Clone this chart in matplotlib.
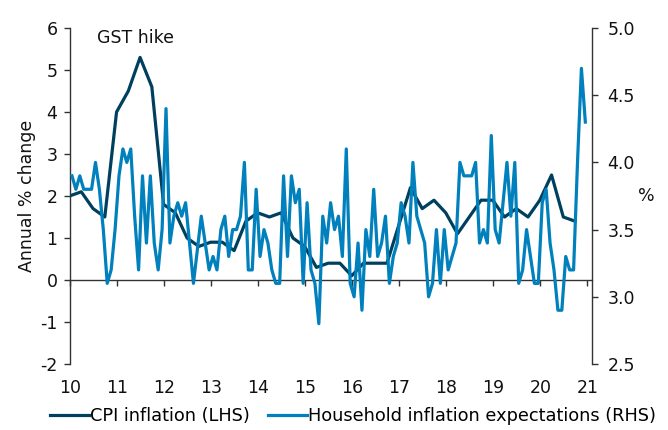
import matplotlib
matplotlib.use("Agg")
import matplotlib.pyplot as plt
import numpy as np
from matplotlib.ticker import FuncFormatter, FixedLocator

# ---- data ----
cpi = [2.0, 2.1, 1.7, 1.5, 4.0, 4.5, 5.3, 4.6, 1.8, 1.6, 1.0, 0.8, 0.9, 0.9, 0.7, 1.4,
       1.6, 1.5, 1.6, 1.0, 0.8, 0.3, 0.4, 0.4, 0.1, 0.4, 0.4, 0.4, 1.3, 2.2, 1.7, 1.9,
       1.6, 1.1, 1.5, 1.9, 1.9, 1.5, 1.7, 1.5, 1.9, 2.5, 1.5, 1.4]
cpi_start = 9.99          # Q4 2009, quarterly steps
hh_exp = [3.9, 3.8, 3.9, 3.8, 3.8, 3.8, 4.0, 3.8, 3.5, 3.1, 3.2, 3.5,
          3.9, 4.1, 4.0, 4.1, 3.6, 3.2, 3.9, 3.4, 3.9, 3.4, 3.2, 3.5,
          4.4, 3.4, 3.6, 3.7, 3.6, 3.7, 3.4, 3.1, 3.35, 3.6, 3.4, 3.2,
          3.3, 3.2, 3.5, 3.6, 3.3, 3.5, 3.5, 3.6, 4.0, 3.2, 3.2, 3.8,
          3.3, 3.5, 3.4, 3.2, 3.1, 3.1, 3.9, 3.3, 3.9, 3.7, 3.8, 3.1,
          3.7, 3.2, 3.1, 2.8, 3.6, 3.4, 3.7, 3.5, 3.6, 3.3, 4.1, 3.1,
          3.0, 3.4, 2.9, 3.5, 3.3, 3.8, 3.3, 3.4, 3.6, 3.1, 3.3, 3.4,
          3.7, 3.6, 3.4, 4.0, 3.6, 3.5, 3.4, 3.0, 3.1, 3.5, 3.1, 3.5,
          3.2, 3.3, 3.4, 4.0, 3.9, 3.9, 3.9, 4.0, 3.4, 3.5, 3.4, 4.2,
          3.5, 3.4, 3.7, 4.0, 3.6, 4.0, 3.1, 3.2, 3.5, 3.3, 3.1, 3.1,
          3.7, 3.8, 3.4, 3.2, 2.9, 2.9, 3.3, 3.2, 3.2, 4.0, 4.7, 4.3]
hh_start = 10.0 + 0.5 / 12   # Jan 2010, monthly steps
year_ticks = list(range(10, 22))
year_labels = [str(y) for y in year_ticks]
left_ticks = list(range(-2, 7))
right_ticks = [2.5, 3.0, 3.5, 4.0, 4.5, 5.0]

cpi_x = cpi_start + 0.25 * np.arange(len(cpi))
hh_x = hh_start + np.arange(len(hh_exp)) / 12.0

dark = "#00405F"
light = "#0080BC"
axis_col = "#333333"
txt_col = "#111111"
fs = 12.5
plt.rcParams['font.family'] = ['DejaVu Sans']

fig = plt.figure(figsize=(6.68, 4.30), dpi=100)
ax = fig.add_axes([70 / 668, 1 - 364 / 430, (592 - 70) / 668, (364 - 28) / 430])
ax2 = ax.twinx()

l1, = ax.plot(cpi_x, cpi, color=dark, lw=2.3, zorder=3)
l2, = ax2.plot(hh_x, hh_exp, color=light, lw=2.3, zorder=3)

ax.set_xlim(10, 21.1)
ax.set_ylim(-2, 6)
ax2.set_ylim(2.5, 5.0)

ax.yaxis.set_major_locator(FixedLocator(left_ticks))
ax.yaxis.set_major_formatter(FuncFormatter(lambda v, p: "%d" % v))
ax2.yaxis.set_major_locator(FixedLocator(right_ticks))
ax2.yaxis.set_major_formatter(FuncFormatter(lambda v, p: "%.1f" % v))
ax.set_xticks(year_ticks)
ax.set_xticklabels(year_labels)

for s in ['top', 'right']:
    ax.spines[s].set_visible(False)
for s in ['top', 'left', 'bottom']:
    ax2.spines[s].set_visible(False)
ax.spines['bottom'].set_position(('data', 0))
for sp in [ax.spines['left'], ax.spines['bottom'], ax2.spines['right']]:
    sp.set_color(axis_col)
    sp.set_linewidth(1.0)

ax.tick_params(axis='y', direction='out', length=4, width=1, color=axis_col,
               labelsize=fs, labelcolor=txt_col, pad=5)
ax2.tick_params(axis='y', direction='out', length=4, width=1, color=axis_col,
                labelsize=fs, labelcolor=txt_col, pad=7)
ax.tick_params(axis='x', direction='out', length=4, width=1, color=axis_col,
               labelsize=fs, labelcolor=txt_col, pad=67)

ax.set_ylabel("Annual % change", fontsize=fs, color=txt_col, labelpad=3)
ax2.set_ylabel("%", fontsize=fs, color=txt_col, rotation=0, labelpad=8, va='center')

ax.text(10.58, 5.76, "GST hike", fontsize=fs, color=txt_col, va='center', ha='left')

fig.legend([l1, l2], ["CPI inflation (LHS)", "Household inflation expectations (RHS)"],
           loc='center', bbox_to_anchor=(353 / 668, 1 - 416 / 430), ncol=2, frameon=False,
           fontsize=12.8, handlelength=2.2, handletextpad=0.05, columnspacing=1.0,
           borderaxespad=0)

fig.savefig("out.png", dpi=100)
